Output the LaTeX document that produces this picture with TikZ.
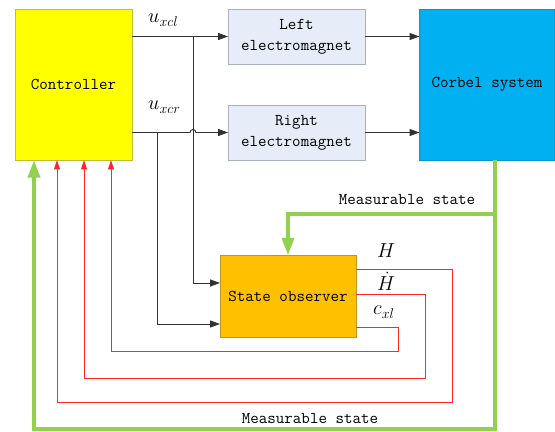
\documentclass[tikz,border=0pt]{standalone}
\usepackage{fontspec}
\usepackage{amsmath}
\usetikzlibrary{arrows.meta,positioning}
\definecolor{ctrlYellow}{RGB}{255,255,0}
\definecolor{ctrlEdge}{RGB}{190,190,60}
\definecolor{magFill}{RGB}{231,237,248}
\definecolor{magEdge}{RGB}{168,176,190}
\definecolor{corbelBlue}{RGB}{0,176,240}
\definecolor{corbelEdge}{RGB}{0,150,210}
\definecolor{obsOrange}{RGB}{255,192,0}
\definecolor{obsEdge}{RGB}{190,150,40}
\definecolor{sigGray}{RGB}{50,50,50}
\definecolor{measGreen}{RGB}{146,208,80}
\definecolor{estRed}{RGB}{255,40,40}
\begin{document}
\begin{tikzpicture}[x=0.03cm,y=-0.03cm,
    box/.style={draw,outer sep=0pt,inner sep=0pt,align=center,
      font=\ttfamily\fontsize{14.1}{18}\selectfont},
    sig/.style={draw=sigGray,line width=0.8pt,-{Triangle[length=8.5pt,width=6pt]}},
    meas/.style={draw=measGreen,line width=3.4pt,-{Triangle[length=15pt,width=10pt]}},
    est/.style={draw=estRed,line width=0.8pt,-{Triangle[length=8pt,width=5pt]}},
    lbl/.style={font=\ttfamily\fontsize{14.1}{16}\selectfont},
    sym/.style={inner sep=0pt,anchor=base west,font=\fontsize{16.5}{20}\selectfont}]
  \useasboundingbox (0,0) rectangle (555,432);
  % blocks
  \node[box,fill=ctrlYellow,draw=ctrlEdge,minimum width=3.51cm,minimum height=4.53cm] (ctrl) at (73.5,84.5) {Controller};
  \node[box,fill=magFill,draw=magEdge,minimum width=4.11cm,minimum height=1.65cm] (lem) at (296.5,36.5) {Left\\electromagnet};
  \node[box,fill=magFill,draw=magEdge,minimum width=4.11cm,minimum height=1.65cm] (rem) at (296.5,132.5) {Right\\electromagnet};
  \node[box,fill=corbelBlue,draw=corbelEdge,minimum width=4.05cm,minimum height=4.53cm] (corbel) at (487,84.5) {Corbel system};
  \node[box,fill=obsOrange,draw=obsEdge,minimum width=4.08cm,minimum height=2.46cm] (obs) at (288,296.5) {State observer};
  % routing points
  \coordinate (tapL) at (193,36.5);
  \coordinate (tapR) at (157,132.5);
  \coordinate (dropL) at (193,283);
  \coordinate (dropR) at (157,324);
  \coordinate (gTop) at (495,160);
  \coordinate (gMid) at (495,214);
  \coordinate (gObs) at (288,214);
  \coordinate (gEnd) at (495,429);
  \coordinate (gCtrl) at (34,429);
  \coordinate (hA) at (452,269);
  \coordinate (hB) at (452,402);
  \coordinate (hC) at (57,402);
  \coordinate (dA) at (425,294);
  \coordinate (dB) at (425,378);
  \coordinate (dC) at (84,378);
  \coordinate (cA) at (398,327.5);
  \coordinate (cB) at (398,351);
  \coordinate (cC) at (111,351);
  % control signals
  \draw[sig] (ctrl.east |- lem.west) -- (lem.west);
  \draw[sig] (ctrl.east |- rem.west) -- (190,132.5) arc (180:360:3) -- (rem.west);
  \draw[sig] (tapL) -- (dropL) -- (obs.west |- dropL);
  \draw[sig] (tapR) -- (dropR) -- (obs.west |- dropR);
  \draw[sig] (lem.east) -- (corbel.west |- lem.east);
  \draw[sig] (rem.east) -- (corbel.west |- rem.east);
  % measurable state
  \draw[meas] (gTop) -- (gEnd) -- (gCtrl) -- (ctrl.south -| gCtrl);
  \draw[meas] (gMid) -- (gObs) -- (obs.north);
  % estimated states
  \draw[est] (obs.east |- hA) -- (hA) -- (hB) -- (hC) -- (ctrl.south -| hC);
  \draw[est] (obs.east |- dA) -- (dA) -- (dB) -- (dC) -- (ctrl.south -| dC);
  \draw[est] (obs.east |- cA) -- (cA) -- (cB) -- (cC) -- (ctrl.south -| cC);
  % labels
  \node[sym] (uxcl) at (148,23) {$u_{xcl}$};
  \node[sym] (uxcr) at (148,110) {$u_{xcr}$};
  \node[sym] (lblH) at (377,258) {$H$};
  \node[sym] (lblHd) at (377,291) {$\dot{H}$};
  \node[sym] (lblC) at (373,315) {$c_{xl}$};
  \node[lbl] (measTop) at (407,200) {Measurable state};
  \node[lbl] (measBot) at (310,419) {Measurable state};
\end{tikzpicture}
\end{document}
